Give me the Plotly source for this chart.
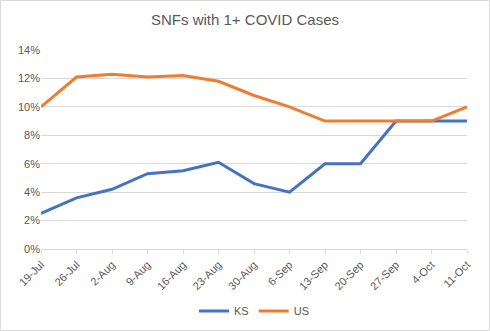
import plotly.graph_objects as go

dates = ["19-Jul", "26-Jul", "2-Aug", "9-Aug", "16-Aug", "23-Aug", "30-Aug",
         "6-Sep", "13-Sep", "20-Sep", "27-Sep", "4-Oct", "11-Oct"]
ks = [0.025, 0.036, 0.042, 0.053, 0.055, 0.061, 0.046, 0.040, 0.060, 0.060, 0.090, 0.090, 0.090]
us = [0.100, 0.121, 0.123, 0.121, 0.122, 0.118, 0.108, 0.100, 0.090, 0.090, 0.090, 0.090, 0.100]

W, H = 490, 331
ml, mr, mt, mb = 41, 23, 50, 82
pw, ph = W - ml - mr, H - mt - mb

fig = go.Figure()
fig.add_trace(go.Scatter(x=dates, y=ks, name="KS", mode="lines",
                         line=dict(color="#4472C4", width=3)))
fig.add_trace(go.Scatter(x=dates, y=us, name="US", mode="lines",
                         line=dict(color="#ED7D31", width=3)))

fig.update_layout(
    width=W, height=H,
    margin=dict(l=ml, r=mr, t=mt, b=mb, autoexpand=False),
    paper_bgcolor="white", plot_bgcolor="white",
    font=dict(family="Liberation Sans, Arial", color="#595959", size=11),
    title=dict(text="SNFs with 1+ COVID Cases", x=0.5, xanchor="center",
               y=1 - 20 / H, yanchor="middle",
               font=dict(size=15, color="#595959")),
    legend=dict(orientation="h", x=0.5, xanchor="center",
                y=(mt + ph - 311) / ph, yanchor="middle",
                font=dict(size=11, color="#595959")),
    showlegend=True,
)
fig.update_xaxes(type="category", range=[0, len(dates) - 1], tickangle=-45,
                 automargin=False,
                 showgrid=False, showline=True, linecolor="#D9D9D9",
                 ticks="outside", ticklen=4, tickcolor="#D9D9D9",
                 tickfont=dict(size=11, color="#595959"))
fig.update_yaxes(range=[0, 0.14], dtick=0.02, tickformat=".0%",
                 automargin=False,
                 showgrid=True, gridcolor="#D9D9D9", gridwidth=1,
                 zeroline=False, showline=False,
                 tickfont=dict(size=11, color="#595959"))

fig.add_shape(type="rect", xref="paper", yref="paper",
              x0=(0.5 - ml) / pw, x1=(W - 0.5 - ml) / pw,
              y0=(mt + ph - (H - 0.5)) / ph, y1=(mt + ph - 0.5) / ph,
              line=dict(color="#D9D9D9", width=1), fillcolor="rgba(0,0,0,0)")

fig.write_html("out.html")
